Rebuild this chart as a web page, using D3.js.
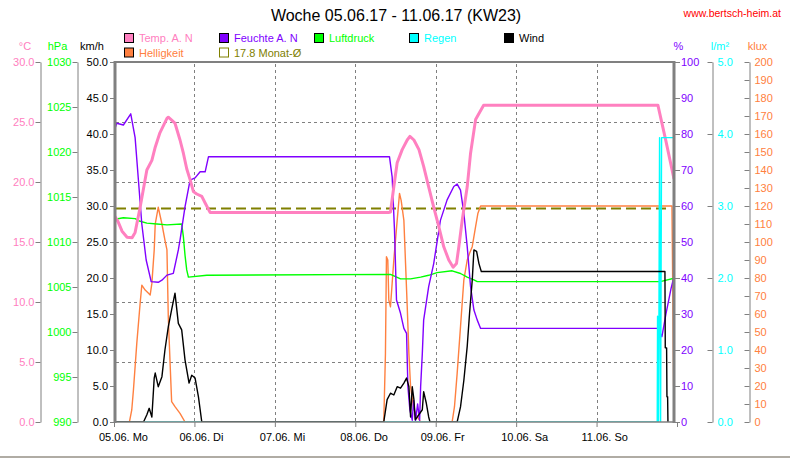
<!DOCTYPE html>
<html><head><meta charset="utf-8">
<script src="https://cdn.jsdelivr.net/npm/d3@7"></script>
<style>
body{margin:0;background:#fff;}
svg{display:block;font-family:"Liberation Sans",Arial,sans-serif;}
</style></head><body>
<svg id="c" width="790" height="460"></svg>
<script>
// ---------- DATA (hours since 05.06. 00:00, value) ----------
const dayLabels = ["05.06. Mo","06.06. Di","07.06. Mi","08.06. Do","09.06. Fr","10.06. Sa","11.06. So"];
const tempTicks = [0,5,10,15,20,25,30];
const pressTicks = [990,995,1000,1005,1010,1015,1020,1025,1030];
const windTicks = [0,5,10,15,20,25,30,35,40,45,50];
const humTicks = [0,10,20,30,40,50,60,70,80,90,100];
const rainTicks = [0,1,2,3,4,5];
const luxTicks = d3.range(0,201,10);
const monthAvg = 17.8;

const tempData = [[0,17.25],[1.2,16.7],[2.4,15.9],[3.9,15.4],[5.4,15.35],[6.3,15.8],[7.8,17.9],[9.8,21],[11.3,21.8],[12.3,22.9],[13.7,24.1],[15.8,25.3],[16.2,25.4],[18.2,24.9],[19.7,23.5],[20.7,22.4],[21.7,21.1],[22.7,20.2],[23.7,19.2],[24.7,19],[26.2,18.8],[27.2,18.25],[28.7,17.45],[81.9,17.45],[82.5,17.5],[83.5,19.6],[84.5,21.6],[86.0,22.7],[87.5,23.5],[88.3,23.8],[89.5,23.5],[91.0,22.7],[92.4,21.3],[93.9,19.6],[95.4,17.9],[96.9,16.3],[98.4,14.6],[99.9,13.5],[101.2,12.9],[102.2,13.2],[102.9,14.6],[103.9,16.8],[105.4,19.6],[106.4,22.4],[107.9,25.2],[110.3,26.4],[162.3,26.4],[164.7,23.4],[167.1,20.25]];

const humData = [[0,80.6],[0.8,83],[2.8,82.5],[5.0,85.6],[6.3,79],[7.3,67],[8.3,55],[9.6,45],[11.1,39],[13.2,38.8],[14.3,39.4],[15.8,40.8],[17.7,41.3],[19.2,47.8],[19.7,50.5],[21.2,59.8],[22.7,67.2],[24.2,67.8],[25.7,69.5],[27.2,69.5],[28.2,73.7],[82.2,73.7],[83.0,68.1],[83.7,53.3],[84.3,33.9],[85.5,30.2],[86.5,26],[87.3,24.6],[87.7,9.8],[88.3,3.3],[89.0,0.5],[89.4,6],[90.0,0.5],[90.6,5],[91.2,0.5],[91.5,9.8],[92.0,19],[92.4,28.3],[93.9,37.6],[95.4,44],[97.4,56],[99.4,61.7],[101.4,65.4],[102.4,66.1],[103.4,64.4],[104.4,58],[105.4,48.7],[106.4,37.6],[107.4,31.1],[108.4,28.3],[109.4,26],[162.3,26],[163.5,23.7],[164.7,30],[166.2,37],[167.4,41.5]];

const pressData = [[0,1012.5],[2.8,1012.7],[6.3,1012.6],[7.8,1012.3],[9.8,1012.1],[12.8,1012.0],[15.8,1011.9],[20.2,1012.0],[20.7,1010.6],[21.2,1008.5],[21.7,1006.9],[22.2,1006.1],[27.7,1006.3],[82.5,1006.4],[85.5,1005.9],[88.5,1005.9],[91.5,1006.1],[93.9,1006.3],[96.4,1006.6],[100.9,1006.8],[103.4,1006.5],[105.4,1006.1],[107.4,1005.8],[108.4,1005.6],[163.0,1005.6],[167.4,1006.0]];

const rainData = [[0,0],[162.1,0],[162.2,1.47],[162.5,0],[162.8,3.95],[163.1,0],[163.4,3.95],[168,3.95]];

const windData = [[0,0],[8.8,0],[9.8,1.0],[10.5,1.9],[11.3,0.7],[12.0,6.1],[12.3,6.8],[13.2,4.9],[14.3,6.3],[15.2,10],[16.2,13.2],[17.2,15.6],[18.2,17.9],[19.2,13.7],[20.2,12.8],[21.2,8.6],[22.4,5.4],[23.2,6.5],[24.2,6.1],[25.2,3.5],[26.2,0],[80.5,0],[81.5,3.1],[82.5,4],[83.5,3.75],[84.5,4.9],[85.5,4.7],[86.5,5.4],[87.3,6.1],[88.0,4.9],[88.5,0.7],[89.0,4.9],[89.5,3.1],[89.9,0.3],[92.0,1.7],[92.4,4.2],[93.2,2.6],[93.9,0.7],[94.3,0],[102.4,0],[103.4,2.1],[104.4,5.8],[105.4,10.5],[106.1,15.1],[106.9,19.7],[107.4,23.9],[108.2,23.7],[108.9,22],[109.6,20.9],[164.4,20.9],[164.5,10.3],[164.9,10.3],[165.0,3.5],[165.2,3.5],[165.3,0]];

const luxData = [[0,0],[4.6,0],[5.3,6.7],[5.8,17.8],[6.8,43.7],[7.8,66],[8.3,76],[9.3,73.3],[10.3,71.5],[10.8,70.6],[11.3,77],[12.0,95.6],[12.3,110],[13.2,119.3],[14.3,110],[15.2,101],[15.8,95.6],[16.2,58.5],[16.7,34.4],[17.2,11.3],[18.2,8.5],[19.7,4.8],[21.2,0],[80.5,0],[81.0,38],[81.3,91.8],[81.7,90],[82.0,67.8],[82.5,64],[83.0,77],[83.5,90],[84.5,112],[85.2,127],[85.7,123],[86.5,112],[87.0,88],[87.5,64],[88.0,38],[88.5,19.6],[89.5,6.7],[90.5,3],[91.5,0],[100.9,0],[101.6,8.5],[102.4,27],[103.4,53],[104.4,79],[105.4,90],[106.1,93.7],[106.9,97.4],[107.9,108.5],[108.6,116],[109.4,120],[166.5,120],[166.8,60],[167.0,20]];

const legendItems = [
  {label:"Temp. A. N", color:"#ff80c0", row:0, col:0},
  {label:"Feuchte A. N", color:"#8000ff", row:0, col:1},
  {label:"Luftdruck", color:"#00ff00", row:0, col:2},
  {label:"Regen", color:"#00ffff", row:0, col:3},
  {label:"Wind", color:"#000000", row:0, col:4},
  {label:"Helligkeit", color:"#ff8040", row:1, col:0},
  {label:"17.8 Monat-Ø", color:"#808000", row:1, col:1, open:true}
];

// ---------- CHART ----------
const svg = d3.select("#c");
const L=114, R=674, T=62, B=422;
const x = d3.scaleLinear().domain([0,168]).range([114,677]);
const yT = d3.scaleLinear().domain([0,30]).range([B,T]);
const yP = d3.scaleLinear().domain([990,1030]).range([B,T]);
const yW = d3.scaleLinear().domain([0,50]).range([B,T]);
const yH = d3.scaleLinear().domain([0,100]).range([B,T]);
const yR = d3.scaleLinear().domain([0,5]).range([B,T]);
const yL = d3.scaleLinear().domain([0,200]).range([B,T]);
const grey = "#808080";

svg.append("rect").attr("width",790).attr("height",460).attr("fill","#fff");

// title
svg.append("text").attr("x",396).attr("y",21).attr("text-anchor","middle")
  .attr("font-size",16).attr("fill","#000").text("Woche 05.06.17 - 11.06.17 (KW23)");
svg.append("text").attr("x",781).attr("y",17).attr("text-anchor","end")
  .attr("font-size",10.5).attr("fill","#ff0000").text("www.bertsch-heim.at");

// legend
const lg = svg.append("g");
legendItems.forEach(d=>{
  const lx = 124 + d.col*95, ly = d.row===0 ? 33 : 47.5;
  lg.append("rect").attr("x",lx+0.5).attr("y",ly+0.5).attr("width",9).attr("height",9)
    .attr("fill", d.open ? "none" : d.color).attr("stroke", d.open ? d.color : "#000").attr("stroke-width",1);
  lg.append("text").attr("x",lx+15).attr("y",ly+9).attr("font-size",11)
    .attr("fill", d.color==="#000000"?"#000":d.color).text(d.label);
});

// grid
const grid = svg.append("g").attr("stroke",grey).attr("stroke-dasharray","3,3").attr("stroke-width",1);
[5,10,15,20,25].forEach(v=>{
  grid.append("line").attr("x1",L+2).attr("x2",R-1).attr("y1",Math.round(yT(v))+0.5).attr("y2",Math.round(yT(v))+0.5);
});
d3.range(1,7).forEach(d=>{
  grid.append("line").attr("x1",Math.round(x(d*24))+0.5).attr("x2",Math.round(x(d*24))+0.5).attr("y1",T+2).attr("y2",B-1);
});

// clip
svg.append("clipPath").attr("id","pc").append("rect").attr("x",L+1).attr("y",T).attr("width",R-L-1).attr("height",B-T);
const pg = svg.append("g").attr("clip-path","url(#pc)");

// month average
pg.append("line").attr("x1",L+2).attr("x2",670).attr("y1",yT(monthAvg)).attr("y2",yT(monthAvg))
  .attr("stroke","#808000").attr("stroke-width",2).attr("stroke-dasharray","10,5");

function drawLine(data, ys, color, w){
  pg.append("path").datum(data).attr("fill","none").attr("stroke",color).attr("stroke-width",w)
    .attr("stroke-linejoin","round")
    .attr("d", d3.line().x(d=>x(d[0])).y(d=>ys(d[1])));
}
drawLine(luxData, yL, "#ff8040", 1.4);
drawLine(pressData, yP, "#00ff00", 1.4);
drawLine(humData, yH, "#8000ff", 1.4);
drawLine(tempData, yT, "#ff80c0", 3);
drawLine(rainData, yR, "#00ffff", 1.4);
drawLine(windData, yW, "#000000", 1.4);

// frame
const fr = svg.append("g").attr("stroke",grey).attr("fill","none");
fr.append("line").attr("x1",L+1).attr("x2",L+1).attr("y1",T-1).attr("y2",B+1).attr("stroke-width",3);
fr.append("line").attr("x1",R).attr("x2",R).attr("y1",T-1).attr("y2",B+1).attr("stroke-width",3);
fr.append("line").attr("x1",L).attr("x2",R+1).attr("y1",T).attr("y2",T).attr("stroke-width",2);
fr.append("line").attr("x1",L).attr("x2",R+1).attr("y1",B).attr("y2",B).attr("stroke-width",1.5);

// axes
function styleAxis(g, color){
  g.selectAll("path.domain").attr("stroke",grey);
  g.selectAll(".tick line").attr("stroke",grey);
  g.selectAll("text").attr("fill",color).attr("font-size",11).attr("font-family","'Liberation Sans',Arial,sans-serif");
}
const f1 = d3.format(".1f"), f0 = d3.format("d");
let g;
g = svg.append("g").attr("transform","translate(40.5,0)")
  .call(d3.axisLeft(yT).tickValues(tempTicks).tickFormat(f1).tickSize(5).tickSizeOuter(0).tickPadding(1));
styleAxis(g,"#ff80c0");
g = svg.append("g").attr("transform","translate(77.5,0)")
  .call(d3.axisLeft(yP).tickValues(pressTicks).tickFormat(f0).tickSize(5).tickSizeOuter(0).tickPadding(1));
styleAxis(g,"#00ff00");
g = svg.append("g").attr("transform","translate(114,0)")
  .call(d3.axisLeft(yW).tickValues(windTicks).tickFormat(f1).tickSize(4).tickSizeOuter(0).tickPadding(2));
styleAxis(g,"#000"); g.select("path.domain").remove();
g = svg.append("g").attr("transform","translate(675,0)")
  .call(d3.axisRight(yH).tickValues(humTicks).tickFormat(f0).tickSize(5).tickSizeOuter(0).tickPadding(1));
styleAxis(g,"#8000ff"); g.select("path.domain").remove();
g = svg.append("g").attr("transform","translate(712.5,0)")
  .call(d3.axisRight(yR).tickValues(rainTicks).tickFormat(f1).tickSizeInner(-5).tickSizeOuter(0).tickPadding(5));
styleAxis(g,"#00ffff");
g = svg.append("g").attr("transform","translate(749.5,0)")
  .call(d3.axisRight(yL).tickValues(luxTicks).tickFormat(f0).tickSizeInner(-5).tickSizeOuter(0).tickPadding(5));
styleAxis(g,"#ff8040");

// x axis
const xa = svg.append("g").attr("transform",`translate(0,${B})`)
  .call(d3.axisBottom(x).tickValues(d3.range(0,8).map(d=>d*24)).tickFormat("").tickSize(5).tickSizeOuter(0));
xa.select("path.domain").remove();
xa.selectAll(".tick line").attr("stroke",grey);
svg.append("g").selectAll("text").data(dayLabels).join("text")
  .attr("x",(d,i)=>x(i*24)-15).attr("y",441).attr("font-size",11).attr("fill","#000").text(d=>d);

// units
const units = [["°C",25,"#ff80c0"],["hPa",57.5,"#00ff00"],["km/h",92,"#000"],["%",678.5,"#8000ff"],["l/m²",720,"#00ffff"],["klux",757.5,"#ff8040"]];
svg.append("g").selectAll("text").data(units).join("text")
  .attr("x",d=>d[1]).attr("y",50).attr("text-anchor","middle").attr("font-size",11).attr("fill",d=>d[2]).text(d=>d[0]);

// bottom status bar
svg.append("rect").attr("x",0).attr("y",456).attr("width",790).attr("height",2).attr("fill","#b0aca4");
</script>
</body></html>
